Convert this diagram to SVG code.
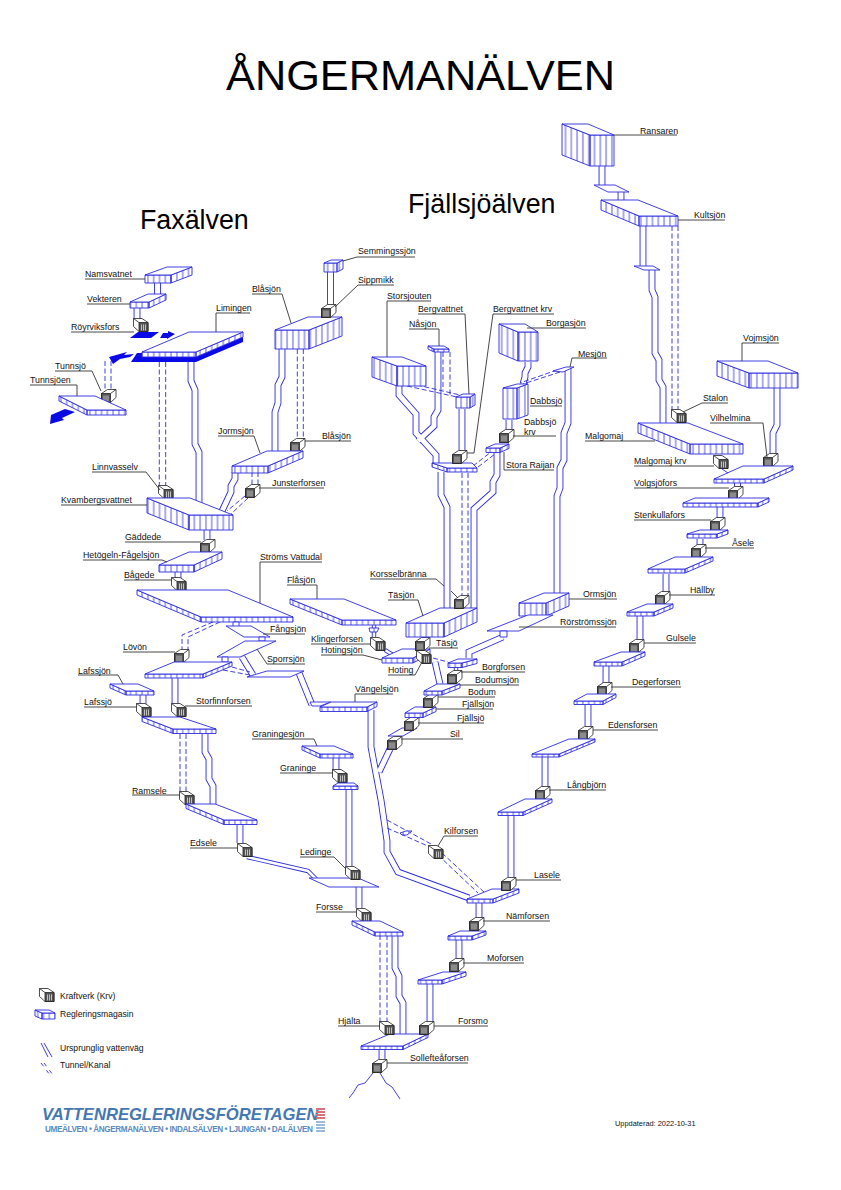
<svg xmlns="http://www.w3.org/2000/svg" width="841" height="1190" viewBox="0 0 841 1190">
<style>
text{font-family:"Liberation Sans",Arial,sans-serif;font-size:8.8px;fill:#111}
.h1{font-size:43.3px;fill:#000}.h2{font-size:26.8px;fill:#000}.lg{font-size:8.6px}
.t{fill:#fff;stroke:#2a2ae0;stroke-width:.9;stroke-linejoin:round}
.p{fill:none;stroke:#2a2ae0;stroke-width:.9;stroke-linejoin:round}
.b{fill:url(#tick);stroke:#2a2ae0;stroke-width:.9;stroke-linejoin:round}
.l{fill:none;stroke:#333;stroke-width:.9}
.o6,.i6,.o4,.i4{fill:none;stroke-linejoin:miter}
.o6{stroke:#2a2ae0;stroke-width:6.8}.i6{stroke:#fff;stroke-width:5}
.o4{stroke:#2a2ae0;stroke-width:4.4}.i4{stroke:#fff;stroke-width:2.6}
.d{fill:none;stroke:#2a2ae0;stroke-width:.9;stroke-dasharray:5 2.5}
.f{fill:#0a0ae6;stroke:none}
</style>
<defs>
<pattern id="tick" width="5.8" height="10" patternUnits="userSpaceOnUse"><rect width="5.8" height="10" fill="#fff"/><path d="M2.9 0V10" stroke="#2a2ae0" stroke-width=".8"/></pattern>
<g id="kL"><path d="M.5 4.5L6.500 .5H15V8.500L9.500 13.500H.5Z M9.500 4.500L15 .5" fill="#fff" stroke="#222" stroke-width=".8"/><path d="M.5 4.500H9.500V13.500H.5Z" fill="#555" stroke="#222" stroke-width=".8"/><path d="M3 6.500V12.500M5 6.500V12.500M7 6.500V12.500" stroke="#ddd" stroke-width=".8"/></g>
<g id="kR"><use href="#kL" transform="translate(15.5) scale(-1 1)"/></g>
</defs>

<text class="h1" x="226" y="90">ÅNGERMANÄLVEN</text>
<text class="h2" x="140" y="229">Faxälven</text>
<text class="h2" x="408" y="213">Fjällsjöälven</text>

<g id="connectors">
<g class="o6">
<path id="c1" d="M157.500 283V294"/>
<path id="c2" d="M137 308V320"/>
<path id="c3" d="M191 362V381L195 390V444L199 452V503"/>
<path id="c4" d="M235 472V479L231 486V492L222 511"/>
<path id="c5" d="M282 349V377L278 385V403L275 412V451"/>
<path id="c6" d="M330.500 272V305"/>
<path id="c7" d="M207 530V540"/>
<path id="c8" d="M178 572V578"/>
<path id="c9" d="M242 657L253 675"/>
<path id="c10" d="M299 673L312 705"/>
<path id="c11" d="M175 677V704"/>
<path id="c12" d="M143 695V704"/>
<path id="c13" d="M205 734V752L209 759V779L213 786V804"/>
<path id="c14" d="M240 825V843"/>
<path id="c15" d="M336 758V771"/>
<path id="c16" d="M349 788V866"/>
<path id="c17" d="M359 887V908"/>
<path id="c18" d="M395 935V968L399 976V996L403 1003V1034"/>
<path id="c19" d="M430 984V1021"/>
<path id="c20" d="M459 939V959"/>
<path id="c21" d="M479 902V918"/>
<path id="c22" d="M511 815V877"/>
<path id="c23" d="M371 710V747L381 800L387 841V852L398 872L469 898"/>
<path id="c24" d="M390 749L379 772"/>
<path id="c25" d="M441 472V495L447 507V608"/>
<path id="c26" d="M497 453V475L493 482V492L474 509V608"/>
<path id="c27" d="M399 386V395L416 414V433L436 455V463"/>
<path id="c28" d="M438 352V410L434 417V426L418 441"/>
<path id="c29" d="M462 409V450"/>
<path id="c30" d="M528 362V367L525 373V377L523 384"/>
<path id="c31" d="M509 420V430"/>
<path id="c32" d="M568 368V423L564 433V460L560 468V488L557 496V593"/>
<path id="c33" d="M503 637L469 652V658"/>
<path id="c34" d="M435 662L440 684"/>
<path id="c35" d="M602 166V185"/>
<path id="c36" d="M621 192V200"/>
<path id="c37" d="M643 226V266"/>
<path id="c38" d="M652 270V290L655 297V353L659 360V380L663 387V423"/>
<path id="c39" d="M777 388V425L773 433V455"/>
<path id="c40" d="M737.500 482V487"/>
<path id="c41" d="M720 507V518"/>
<path id="c42" d="M700 539V545"/>
<path id="c43" d="M666 574V592"/>
<path id="c44" d="M640 616V639"/>
<path id="c45" d="M606 666V683"/>
<path id="c46" d="M588 704V726"/>
<path id="c47" d="M545 757V787"/>
<path id="c48" d="M382 1049V1059"/>
</g>
<g class="i6">
<use href="#c1"/><use href="#c2"/><use href="#c3"/><use href="#c4"/><use href="#c5"/><use href="#c6"/><use href="#c7"/><use href="#c8"/><use href="#c9"/><use href="#c10"/><use href="#c11"/><use href="#c12"/><use href="#c13"/><use href="#c14"/><use href="#c15"/><use href="#c16"/><use href="#c17"/><use href="#c18"/><use href="#c19"/><use href="#c20"/><use href="#c21"/><use href="#c22"/><use href="#c23"/><use href="#c24"/><use href="#c25"/><use href="#c26"/><use href="#c27"/><use href="#c28"/><use href="#c29"/><use href="#c30"/><use href="#c31"/><use href="#c32"/><use href="#c33"/><use href="#c34"/><use href="#c35"/><use href="#c36"/><use href="#c37"/><use href="#c38"/><use href="#c39"/><use href="#c40"/><use href="#c41"/><use href="#c42"/><use href="#c43"/><use href="#c44"/><use href="#c45"/><use href="#c46"/><use href="#c47"/><use href="#c48"/>
</g>
<g class="o4"><path id="n1" d="M247 857L308 871L316 879"/><path id="n2" d="M456 667V671"/><path id="n3" d="M385 650L393 655"/><path id="n4" d="M374 625V637"/></g>
<g class="i4"><use href="#n1"/><use href="#n2"/><use href="#n3"/><use href="#n4"/></g>
<g class="d">
<path d="M105 361V390M111 361V390"/>
<path d="M159.300 362V486M165.700 362V486"/>
<path d="M252 472V486M258 472V486"/>
<path d="M245 496L227 511M248 498L231 514"/>
<path d="M297.300 349V438M303.300 349V438"/>
<path d="M213 622L182 635V649M220 622L188 637V650"/>
<path d="M223 670L250 675M232 667L250 672"/>
<path d="M180 734V792M186 734V792"/>
<path d="M380 935V1022M387 935V1022"/>
<path d="M387 820L433 845M387 828L430 847"/>
<path d="M438 855L478 893M442 853L485 893"/>
<path d="M462 473V595M468 473V595"/>
<path d="M473 466L491 452M478 467L495 454"/>
<path d="M443 352V390M450 352V395"/>
<path d="M407 386L457 397M417 385L460 395"/>
<path d="M557 370L520 383M560 372L523 384"/>
<path d="M433 658L448 662"/>
<path d="M672 226V410M678 226V410"/>
</g>
</g>

<g id="Namsvatnet"><path class="b" d="M145 275H171v8H145ZM171 275L192 267v8L171 283Z"/><path class="t" d="M145 275L167 267H192L171 275Z"/><path class="l" d="M85 279H145"/><text x="85" y="277">Namsvatnet</text></g>
<g id="Vekteren"><path class="b" d="M130 302H149v6H130ZM149 302L166 294v6L149 308Z"/><path class="t" d="M130 302L148 294H166L149 302Z"/><path class="l" d="M87 304H130"/><text x="87" y="302">Vekteren</text></g>
<g id="Roeyrviksfors"><use href="#kR" x="133" y="318"/><path class="l" d="M71 332H134"/><text x="71" y="330">Röyrviksfors</text></g>
<g id="blue-arrows"><path class="f" d="M130 338L138 332H159L151 338Z"/><path class="f" d="M160 338L163 333L168 333V331L175 334L167 339V338Z"/><path class="f" d="M109 357L127 352L124 355L134 354L130 357L120 359L113 364Z"/><path class="f" d="M50 424L51 415L65 409L75 412L62 418L64 420Z"/></g>
<g id="Limingen"><path class="f" d="M131 362L137 353H142V357H196L243 337V342L196 362Z"/><path class="b" d="M142 352H196v5H142ZM196 352L243 332v5L196 357Z"/><path class="t" d="M142 352L189 332H243L196 352Z"/><path class="l" d="M250 313H216V332"/><text x="216" y="311">Limingen</text></g>
<g id="Tunnsjoe"><use href="#kL" x="101" y="389"/><path class="l" d="M55 371H92L101 391"/><text x="55" y="369">Tunnsjö</text></g>
<g id="Tunnsjoen"><path class="b" d="M59 396L87 410v5L59 401ZM87 410H126v5H87Z"/><path class="t" d="M59 396H95L126 410H87Z"/><path class="l" d="M30 385H77V396"/><text x="30" y="383">Tunnsjöen</text></g>
<g id="Blasjon-res"><path class="b" d="M275 330H309v19H275ZM309 330L342 317v19L309 349Z"/><path class="t" d="M275 330L308 317H342L309 330Z"/><path class="l" d="M252 294H282L291 323"/><text x="252" y="292">Blåsjön</text></g>
<g id="Semmingssjon"><path class="b" d="M324 263H337v9H324ZM337 263L343 260v9L337 272Z"/><path class="t" d="M324 263L331 260H343L337 263Z"/><path class="l" d="M343 261L357 257H415"/><text x="358" y="254">Semmingssjön</text></g>
<g id="Sippmikk"><use href="#kL" x="321" y="304"/><path class="l" d="M335 307L358 285H394"/><text x="358" y="283">Sippmikk</text></g>
<g id="Blasjon-krv"><use href="#kL" x="290" y="438"/><path class="l" d="M305 441H351"/><text x="322" y="439">Blåsjön</text></g>
<g id="Jormsjon"><path class="b" d="M232 466H268v7H232ZM268 466L303 451v7L268 473Z"/><path class="t" d="M232 466L267 451H303L268 466Z"/><path class="l" d="M218 436H254L260 453"/><text x="218" y="434">Jormsjön</text></g>
<g id="Junsterforsen"><use href="#kL" x="245" y="484"/><path class="l" d="M259 488H324"/><text x="272" y="486">Junsterforsen</text></g>
<g id="Linnvasselv"><use href="#kR" x="158" y="485"/><path class="l" d="M92 472H146L160 490"/><text x="92" y="470">Linnvasselv</text></g>
<g id="Kvambergsvattnet"><path class="b" d="M147 498L189 515v15L147 513ZM189 515H233v15H189Z"/><path class="t" d="M147 498H190L233 515H189Z"/><path class="l" d="M61 505H147"/><text x="61" y="503">Kvambergsvattnet</text></g>
<g id="Gaddede"><use href="#kL" x="200" y="539"/><path class="l" d="M125 542H201"/><text x="125" y="540">Gäddede</text></g>
<g id="Hetogeln"><path class="b" d="M159 565H194v7H159ZM194 565L222 552v7L194 572Z"/><path class="t" d="M159 565L189 552H222L194 565Z"/><path class="l" d="M83 560H162L167 562"/><text x="83" y="558">Hetögeln-Fågelsjön</text></g>
<g id="Bagede"><use href="#kR" x="171" y="577"/><path class="l" d="M124 580H172"/><text x="124" y="578">Bågede</text></g>
<g id="Stroms"><path class="b" d="M137 590L201 617v5L137 595ZM201 617H293v5H201Z"/><path class="t" d="M137 590H228L293 617H201Z"/><path class="l" d="M322 562H260V603"/><text x="260" y="560">Ströms Vattudal</text></g>
<g id="Fangsjon"><path class="t" d="M233 622H239V627H233Z"/><path class="t" d="M226 626H251L270 637H244Z"/><path class="t" d="M259 637H265V641H259Z"/><path class="l" d="M263 634H305"/><text x="270" y="632">Fångsjön</text></g>
<g id="Sporrsjon"><path class="t" d="M217 657L245 641H276L240 657Z"/><path class="t" d="M222 657H228V662H222Z"/><path class="t" d="M247 677L267 671H304L290 677Z"/><path class="l" d="M257 649L267 664H305"/><text x="267" y="662">Sporrsjön</text></g>
<g id="Vangelsjon"><path class="t" d="M310 702H331L320 706H312Z"/><path class="b" d="M320 707H367v4.500H320ZM367 707L377 702v4.500L367 711.500Z"/><path class="t" d="M320 707L331 702H377L367 707Z"/><path class="l" d="M393 694H355V702"/><text x="355" y="692">Vängelsjön</text></g>
<g id="Lovon"><use href="#kL" x="174" y="649"/><path class="l" d="M123 652H175"/><text x="123" y="650">Lövön</text></g>
<g id="Lovon-res"><path class="b" d="M145 674H203v4H145ZM203 674L232 662v4L203 678Z"/><path class="t" d="M145 674L174 662H232L203 674Z"/></g>
<g id="Storfinnforsen"><use href="#kR" x="171" y="703"/><path class="l" d="M185 706H252"/><text x="196" y="704">Storfinnforsen</text></g>
<g id="Lafssjon"><path class="b" d="M110 684L126 691v4L110 688ZM126 691H154v4H126Z"/><path class="t" d="M110 684H138L154 691H126Z"/><path class="l" d="M78 675H118L123 684"/><text x="78" y="673.500">Lafssjön</text></g>
<g id="Lafssjo"><use href="#kR" x="136" y="703"/><path class="l" d="M84 707H137"/><text x="84" y="705">Lafssjö</text></g>
<g id="Storfinn-res"><path class="b" d="M142 717L173 729v4.500L142 721.500ZM173 729H216v4.500H173Z"/><path class="t" d="M142 717H180L216 729H173Z"/></g>
<g id="Ramsele"><use href="#kR" x="179" y="791"/><path class="l" d="M132 795H180"/><text x="132" y="793.500">Ramsele</text></g>
<g id="Ramsele-res"><path class="b" d="M186 804L224 820v4.500L186 808.500ZM224 820H257v4.500H224Z"/><path class="t" d="M186 804H215L257 820H224Z"/></g>
<g id="Edsele"><use href="#kR" x="237" y="843"/><path class="l" d="M190 848H238"/><text x="190" y="846">Edsele</text></g>
<g id="Graningesjon"><path class="b" d="M302 746L320 754v4L302 750ZM320 754H353v4H320Z"/><path class="t" d="M302 746H334L353 754H320Z"/><path class="l" d="M252 739H314L317 746"/><text x="252" y="737">Graningesjön</text></g>
<g id="Graninge"><use href="#kR" x="332" y="769"/><path class="l" d="M280 773H333"/><text x="280" y="771">Graninge</text></g>
<g id="Graninge-res"><path class="b" d="M333 786H358v3.500H333Z"/><path class="t" d="M333 786L338 783H354L358 786Z"/></g>
<g id="Ledinge-res"><path class="t" d="M309 878H358L379 887H329Z"/></g>
<g id="Ledinge"><use href="#kR" x="345" y="866"/><path class="l" d="M300 857H334L346 869"/><text x="300" y="855">Ledinge</text></g>
<g id="Forsse"><use href="#kR" x="356" y="908"/><path class="l" d="M316 912H357"/><text x="316" y="910">Forsse</text></g>
<g id="Forsse-res"><path class="b" d="M352 921L375 932v4L352 925ZM375 932H403v4H375Z"/><path class="t" d="M352 921H380L403 932H375Z"/></g>
<g id="Solleftea-res"><path class="b" d="M361 1046H403v3.500H361ZM403 1046L428 1034v3.500L403 1049.500Z"/><path class="t" d="M361 1046L390 1034H428L403 1046Z"/></g>
<g id="Hjalta"><use href="#kR" x="379" y="1021"/><path class="l" d="M338 1026H380"/><text x="338" y="1024">Hjälta</text></g>
<g id="Forsmo"><use href="#kL" x="419" y="1021"/><path class="l" d="M434 1026H488"/><text x="458" y="1024">Forsmo</text></g>
<g id="Moforsen-res"><path class="b" d="M418 980H442v4H418ZM442 980L466 972v4L442 984Z"/><path class="t" d="M418 980L443 972H466L442 980Z"/></g>
<g id="Moforsen"><use href="#kL" x="449" y="958"/><path class="l" d="M463 963H524"/><text x="487" y="961">Moforsen</text></g>
<g id="Namforsen-res"><path class="b" d="M448 936H472v4H448ZM472 936L486 931v4L472 940Z"/><path class="t" d="M448 936L460 931H486L472 936Z"/></g>
<g id="Namforsen"><use href="#kL" x="469" y="917"/><path class="l" d="M483 921H550"/><text x="506" y="919">Nämforsen</text></g>
<g id="Lasele-res"><path class="b" d="M467 899H493v4H467ZM493 899L519 889v4L493 903Z"/><path class="t" d="M467 899L492 889H519L493 899Z"/></g>
<g id="Lasele"><use href="#kL" x="501" y="877"/><path class="l" d="M516 880H561"/><text x="534" y="878">Lasele</text></g>
<g id="Kilforsen"><path class="b" d="M400 833L406 831H412L407 835H402Z"/><use href="#kR" x="428" y="845"/><path class="l" d="M478 836H444L438 846"/><text x="444" y="834">Kilforsen</text></g>
<g id="Sil-res"><path class="t" d="M388 736L402 728H417L403 736Z"/></g>
<g id="Sil"><use href="#kL" x="387" y="736"/><path class="l" d="M401 739H463"/><text x="450" y="737">Sil</text></g>
<g id="Fjallsjo"><use href="#kL" x="404" y="717"/><path class="l" d="M418 723H484"/><text x="457" y="721">Fjällsjö</text></g>
<g id="Fjallsjon"><path class="b" d="M405 713H423v4.500H405ZM423 713L436 707v4.500L423 717.500Z"/><path class="t" d="M405 713L415 707H436L423 713Z"/><path class="l" d="M436 709H493"/><text x="462" y="707">Fjällsjön</text></g>
<g id="Bodum"><use href="#kL" x="423" y="694"/><path class="l" d="M438 697H495"/><text x="468" y="695">Bodum</text></g>
<g id="Bodumsjon"><path class="b" d="M424 691H442v4H424ZM442 691L460 684v4L442 695Z"/><path class="t" d="M424 691L437 684H460L442 691Z"/><path class="l" d="M460 685H519"/><text x="475" y="683">Bodumsjön</text></g>
<g id="Borgforsen"><use href="#kL" x="447" y="670"/><path class="l" d="M461 672H525"/><text x="482" y="670">Borgforsen</text></g>
<g id="Borgforsen-res"><path class="b" d="M448 663H462v4.500H448ZM462 663L477 659v4.500L462 667.500Z"/><path class="t" d="M448 663L458 659H477L462 663Z"/></g>
<g id="Hotingsjon"><path class="b" d="M382 658H413v5H382ZM413 658L430 649v5L413 663Z"/><path class="t" d="M382 658L402 649H430L413 658Z"/><path class="l" d="M321 655H363L382 660"/><text x="321" y="653">Hotingsjön</text></g>
<g id="Hoting"><use href="#kR" x="416" y="650"/><path class="l" d="M388 675H415L422 662"/><text x="388" y="673">Hoting</text></g>
<g id="Tasjo"><use href="#kL" x="415" y="637"/><path class="l" d="M429 648H458"/><text x="436" y="646">Täsjö</text></g>
<g id="Klingerforsen"><path class="b" d="M369 628H379L377 632H370Z"/><use href="#kR" x="370" y="637"/><path class="l" d="M311 644H371"/><text x="311" y="642">Klingerforsen</text></g>
<g id="Flasjon"><path class="b" d="M290 599L342 620v5L290 604ZM342 620H396v5H342Z"/><path class="t" d="M290 599H344L396 620H342Z"/><path class="l" d="M287 585H317V599"/><text x="287" y="583">Flåsjön</text></g>
<g id="Tasjon"><path class="b" d="M406 623H444v14H406ZM444 623L477 608v14L444 637Z"/><path class="t" d="M406 623L440 608H477L444 623Z"/><path class="l" d="M388 600H418L423 616"/><text x="388" y="598">Täsjön</text></g>
<g id="Korsselbranna"><use href="#kL" x="454" y="595"/><path class="l" d="M370 579H436L444 586M451 591L458 598"/><text x="370" y="577">Korsselbränna</text></g>
<g id="Stora-Raijan-low"><path class="b" d="M432 463L447 468v4L432 467ZM447 468H477v4H447Z"/><path class="t" d="M432 463H472L477 468H447Z"/></g>
<g id="Stora-Raijan"><path class="b" d="M486 448H500v4.500H486ZM500 448L509 444v4.500L500 452.500Z"/><path class="t" d="M486 448L495 444H509L500 448Z"/><path class="l" d="M504 452V470H554"/><text x="506" y="468">Stora Raijan</text></g>
<g id="Storsjouten"><path class="b" d="M372 357L397 366v20L372 377ZM397 366H426v20H397Z"/><path class="t" d="M372 357H402L426 366H397Z"/><path class="l" d="M431 301H387V357"/><text x="387" y="299">Storsjouten</text></g>
<g id="Nasjon"><path class="b" d="M428 346L434 349v3L428 349ZM434 349H449v3H434Z"/><path class="t" d="M428 346H444L449 349H434Z"/><path class="l" d="M409 329H439V346"/><text x="409" y="327">Nåsjön</text></g>
<g id="Bergvattnet"><path class="b" d="M456 397H470v11H456ZM470 397L475 394v11L470 408Z"/><path class="t" d="M456 397L463 394H475L470 397Z"/><path class="l" d="M418 314H465L469 394"/><text x="418" y="312">Bergvattnet</text></g>
<g id="Bergvattnet-krv"><use href="#kL" x="452" y="450"/><path class="l" d="M554 314H493L474 453H467"/><text x="493" y="312">Bergvattnet krv</text></g>
<g id="Borgasjon"><path class="b" d="M499 324L518 332v29L499 353ZM518 332H538v29H518Z"/><path class="t" d="M499 324H525L538 332H518Z"/><path class="l" d="M527 328H586"/><text x="546" y="326">Borgasjön</text></g>
<g id="Dabbsjo"><path class="b" d="M503 388H517v31H503ZM517 388L528 384v31L517 419Z"/><path class="t" d="M503 388L517 384H528L517 388Z"/><path class="l" d="M530 406H562"/><text x="530" y="404">Dabbsjö</text></g>
<g id="Dabbsjo-krv"><use href="#kL" x="499" y="429"/><path class="l" d="M513 436H556"/><text x="524" y="425">Dabbsjö</text><text x="524" y="435">krv</text></g>
<g id="Mesjon"><path class="t" d="M553 371L566 367H574L563 372Z"/><path class="l" d="M570 367L572 358H607"/><text x="578" y="356.500">Mesjön</text></g>
<g id="Ormsjon"><path class="b" d="M519 603H546v13H519ZM546 603L569 593v13L546 616Z"/><path class="t" d="M519 603L544 593H569L546 603Z"/><path class="l" d="M569 599H617"/><text x="583" y="597">Ormsjön</text></g>
<g id="Rorstromssjon"><path class="t" d="M487 631L528 615H553L519 631Z"/><path class="t" d="M500 631H507V637H500Z"/><path class="l" d="M519 627H616"/><text x="560" y="625">Rörströmssjön</text></g>
<g id="Ransaren"><path class="b" d="M562 124L590 135v31L562 155ZM590 135H614v31H590Z"/><path class="t" d="M562 124H588L614 135H590Z"/><path class="l" d="M614 135H677"/><text x="640" y="133.500">Ransaren</text></g>
<g id="Ransaren-plane"><path class="t" d="M594 185H615L629 192H608Z"/></g>
<g id="Kultsjon"><path class="b" d="M601 200L639 216v10L601 210ZM639 216H678v10H639Z"/><path class="t" d="M601 200H638L678 216H639Z"/><path class="l" d="M678 220H725"/><text x="694" y="218">Kultsjön</text></g>
<g id="Kultsjon-plane"><path class="t" d="M634 266H653L660 270H644Z"/></g>
<g id="Vojmsjon"><path class="b" d="M717 361L749 373v15L717 376ZM749 373H798v15H749Z"/><path class="t" d="M717 361H768L798 373H749Z"/><path class="l" d="M779 343H742V361"/><text x="743" y="341">Vojmsjön</text></g>
<g id="Malgomaj"><path class="b" d="M638 423L690 444v10L638 433ZM690 444H743v10H690Z"/><path class="t" d="M638 423H688L743 444H690Z"/><path class="l" d="M585 441H655"/><text x="585" y="439">Malgomaj</text></g>
<g id="Stalon"><use href="#kR" x="671" y="409"/><path class="l" d="M683 412L702 403H728"/><text x="703" y="401">Stalon</text></g>
<g id="Vilhelmina"><use href="#kL" x="763" y="453"/><path class="l" d="M710 423H763L767 457"/><text x="710" y="421">Vilhelmina</text></g>
<g id="Volgsjofors-res"><path class="b" d="M714 479H764v4H714ZM764 479L793 466v4L764 483Z"/><path class="t" d="M714 479L743 466H793L764 479Z"/></g>
<g id="Malgomaj-krv"><use href="#kR" x="713" y="455"/><path class="p" d="M722 469L728 473"/><path class="l" d="M634 466H714"/><text x="634" y="464">Malgomaj krv</text></g>
<g id="Volgsjofors"><use href="#kL" x="728" y="486"/><path class="l" d="M634 488H729"/><text x="634" y="486">Volgsjöfors</text></g>
<g id="Stenkullafors-res"><path class="b" d="M683 503H758v4H683ZM758 503L769 498v4L758 507Z"/><path class="t" d="M683 503L695 498H769L758 503Z"/></g>
<g id="Stenkullafors"><use href="#kL" x="710" y="517"/><path class="l" d="M634 520H711"/><text x="634" y="518">Stenkullafors</text></g>
<g id="Asele-res"><path class="b" d="M687 534H717v4H687ZM717 534L728 530v4L717 538Z"/><path class="t" d="M687 534L700 530H728L717 534Z"/></g>
<g id="Asele"><use href="#kL" x="691" y="544"/><path class="l" d="M705 548H754"/><text x="732" y="546">Åsele</text></g>
<g id="Hallby-res"><path class="b" d="M648 569H685v4H648ZM685 569L713 557v4L685 573Z"/><path class="t" d="M648 569L675 557H713L685 569Z"/></g>
<g id="Hallby"><use href="#kL" x="655" y="591"/><path class="l" d="M669 595H715"/><text x="690" y="593">Hällby</text></g>
<g id="Gulsele-res"><path class="b" d="M627 612H654v4H627ZM654 612L673 604v4L654 616Z"/><path class="t" d="M627 612L647 604H673L654 612Z"/></g>
<g id="Gulsele"><use href="#kL" x="629" y="639"/><path class="l" d="M644 643H696"/><text x="666" y="641">Gulsele</text></g>
<g id="Degerforsen-res"><path class="b" d="M594 662H622v4H594ZM622 662L645 652v4L622 666Z"/><path class="t" d="M594 662L621 652H645L622 662Z"/></g>
<g id="Degerforsen"><use href="#kL" x="597" y="682"/><path class="l" d="M611 687H681"/><text x="632" y="685">Degerforsen</text></g>
<g id="Edensforsen-res"><path class="b" d="M574 701H603v3.500H574ZM603 701L616 694v3.500L603 704.500Z"/><path class="t" d="M574 701L587 694H616L603 701Z"/></g>
<g id="Edensforsen"><use href="#kL" x="578" y="726"/><path class="l" d="M593 730H658"/><text x="608" y="728">Edensforsen</text></g>
<g id="Langbjorn-res"><path class="b" d="M532 754H559v3H532ZM559 754L595 739v3L559 757Z"/><path class="t" d="M532 754L569 739H595L559 754Z"/></g>
<g id="Langbjorn"><use href="#kL" x="535" y="786"/><path class="l" d="M549 790H606"/><text x="567" y="788">Långbjörn</text></g>
<g id="Lasele-up-res"><path class="b" d="M498 812H523v3.500H498ZM523 812L552 799v3.500L523 815.500Z"/><path class="t" d="M498 812L525 799H552L523 812Z"/></g>
<g id="Sollefteaforsen"><use href="#kL" x="372" y="1059"/><path class="l" d="M387 1063H468"/><text x="410" y="1061">Sollefteåforsen</text><path class="p" d="M373 1073L365 1083L358 1085L353 1093L349 1098M380 1073L386 1083L392 1087L396 1093L400 1099"/></g>

<g id="legend">
<use href="#kR" x="39" y="988"/><text class="lg" x="60" y="999">Kraftverk (Krv)</text>
<path class="b" d="M35 1010L42 1013v6L35 1016ZM42 1013H55v6H42Z"/><path class="t" d="M35 1010H49L55 1013H42Z"/><text class="lg" x="60" y="1017">Regleringsmagasin</text>
<path class="p" d="M41 1043L48 1057M44 1043L52 1057"/><text class="lg" x="60" y="1051">Ursprunglig vattenväg</text>
<path class="d" style="stroke-dasharray:4 5" d="M41 1063L50 1075M44 1063L53 1075"/><text class="lg" x="60" y="1068">Tunnel/Kanal</text>
</g>

<g id="logo">
<text x="42" y="1120" style="font-size:16.6px;font-weight:bold;font-style:italic;fill:#4577b2">VATTENREGLERINGSFÖRETAGEN</text>
<text x="45" y="1132" textLength="268" style="font-size:8.2px;font-weight:bold;fill:#5b8bc0">UMEÄLVEN • ÅNGERMANÄLVEN • INDALSÄLVEN • LJUNGAN • DALÄLVEN</text>
<path d="M316 1109H325M316 1112H325M316 1115H325M316 1118H325" stroke="#d8737c" stroke-width="2"/>
<path d="M316 1122H325M316 1125H325M316 1128H325M316 1131H325" stroke="#7da3cf" stroke-width="1.600"/>
</g>
<text x="615" y="1126" style="font-size:7.400px">Uppdaterad: 2022-10-31</text>
</svg>
